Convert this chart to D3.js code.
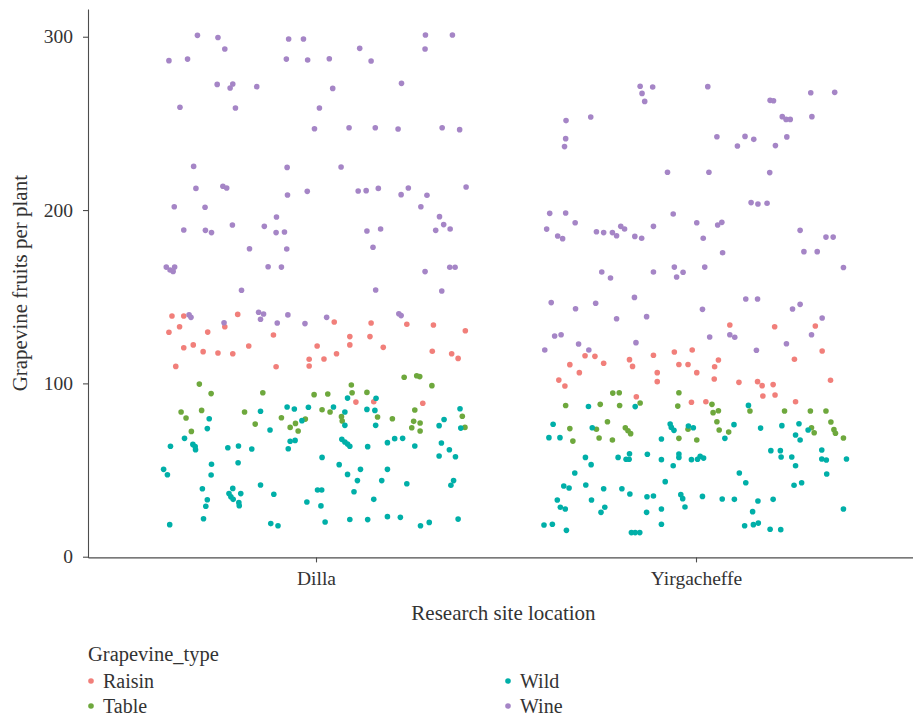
<!DOCTYPE html>
<html>
<head>
<meta charset="utf-8">
<script src="https://cdn.jsdelivr.net/npm/d3@7"></script>
<style>
  body { margin: 0; background: #fff; }
  text { font-family: "Liberation Serif", "DejaVu Serif", serif; fill: #333; }
</style>
</head>
<body>
<div id="chart"></div>
<script>
// Sites and grapevine types
const sites = ['Dilla', 'Yirgacheffe'];
const types = ['Raisin', 'Table', 'Wild', 'Wine'];
const colors = ['#F17F7A', '#6EA83D', '#00AFA8', '#A585C6'];
const yTicks = [0, 100, 200, 300];

// Each point: [jitter from site centre (site units), fruits per plant]
const dillaRaisin = [[-0.379,138.9],[-0.348,138.9],[-0.359,132.7],[-0.387,129.5],[-0.285,129.6],[-0.240,132.7],[-0.206,139.8],[-0.112,127.9],[-0.348,120.6],[-0.323,122.2],[-0.297,118.3],[-0.258,117.5],[-0.219,117.1],[-0.177,121.6],[-0.369,109.8],[-0.105,109.6],[-0.018,113.9],[-0.018,110.0],[0.003,121.6],[0.021,114.1],[0.048,135.4],[0.054,117.1],[0.089,127.0],[0.089,122.2],[0.142,127.0],[0.145,134.8],[0.177,120.8],[0.239,134.1],[0.309,133.7],[0.306,118.5],[0.357,117.1],[0.374,114.4],[0.393,130.4],[0.105,89.2],[0.152,89.4],[0.281,88.5]];

const dillaTable = [[-0.307,99.6],[-0.276,94.1],[-0.355,83.5],[-0.342,80.0],[-0.301,84.4],[-0.328,72.3],[-0.188,83.5],[-0.140,94.6],[-0.160,76.5],[-0.091,80.2],[-0.068,74.6],[-0.054,76.9],[-0.047,72.5],[-0.028,79.4],[-0.005,93.5],[0.031,93.9],[0.016,84.8],[0.037,83.5],[0.067,80.8],[0.069,78.3],[0.093,99.1],[0.095,94.6],[0.134,94.8],[0.162,80.6],[0.201,79.6],[0.232,103.5],[0.265,104.4],[0.273,103.9],[0.305,98.7],[0.260,84.6],[0.257,78.1],[0.274,77.1],[0.252,74.4],[0.274,72.5],[0.385,81.0],[0.392,74.6]];

const dillaWild = [[-0.281,79.6],[-0.286,73.9],[-0.346,68.3],[-0.383,63.7],[-0.324,64.8],[-0.318,63.5],[-0.317,61.7],[-0.401,50.4],[-0.391,47.3],[-0.275,53.3],[-0.276,47.1],[-0.299,39.2],[-0.286,32.9],[-0.290,29.1],[-0.296,21.9],[-0.385,18.5],[-0.232,62.9],[-0.204,63.9],[-0.205,54.2],[-0.169,62.1],[-0.219,39.4],[-0.229,36.5],[-0.224,34.6],[-0.218,33.1],[-0.198,36.4],[-0.203,31.2],[-0.202,29.4],[-0.146,83.9],[-0.121,73.1],[-0.146,41.4],[-0.111,36.0],[-0.119,19.1],[-0.100,17.9],[-0.076,86.4],[-0.057,85.2],[-0.037,78.5],[-0.068,66.6],[-0.055,67.1],[-0.073,62.3],[-0.020,86.2],[0.046,86.4],[0.083,91.5],[0.076,83.5],[0.076,75.8],[0.068,67.7],[0.076,66.2],[0.083,65.0],[0.089,63.7],[0.016,57.3],[0.061,53.1],[0.004,38.5],[0.015,38.5],[-0.024,31.6],[0.013,29.3],[0.024,20.0],[0.083,47.5],[0.117,50.4],[0.109,43.9],[0.100,37.5],[0.089,21.5],[0.136,21.4],[0.134,85.0],[0.155,84.4],[0.158,91.4],[0.157,75.8],[0.136,63.5],[0.152,33.1],[0.173,43.9],[0.188,50.4],[0.188,65.8],[0.207,68.1],[0.228,68.3],[0.188,23.1],[0.222,22.7],[0.239,42.1],[0.260,63.9],[0.275,17.9],[0.298,19.8],[0.324,75.6],[0.337,79.2],[0.330,65.6],[0.351,61.7],[0.324,58.1],[0.367,57.7],[0.362,43.9],[0.355,41.2],[0.374,21.7],[0.379,85.4],[0.381,74.2]];

const dillaWine = [[-0.312,300.8],[-0.258,299.6],[-0.240,292.9],[-0.387,286.2],[-0.338,287.1],[-0.072,298.7],[-0.033,298.7],[-0.078,287.1],[-0.022,286.6],[0.035,287.3],[0.115,293.3],[0.145,286.0],[0.288,301.0],[0.359,301.0],[0.287,292.9],[-0.260,272.5],[-0.219,272.7],[-0.226,270.4],[-0.156,271.2],[0.044,270.2],[0.225,273.1],[-0.358,259.3],[-0.212,258.9],[0.009,258.9],[-0.004,246.9],[0.087,247.5],[0.156,247.5],[0.216,246.8],[0.332,247.5],[0.378,246.4],[-0.322,225.2],[-0.076,224.6],[0.066,224.8],[-0.316,212.5],[-0.245,213.7],[-0.235,212.7],[-0.075,208.7],[-0.023,210.8],[0.111,211.0],[0.132,211.2],[0.164,212.5],[0.224,208.9],[0.243,212.7],[0.292,208.5],[0.395,213.3],[-0.373,201.9],[-0.292,201.6],[0.276,201.9],[-0.104,196.0],[0.325,196.2],[-0.348,188.5],[-0.291,188.3],[-0.275,187.0],[-0.220,191.4],[-0.136,190.6],[-0.105,187.0],[-0.083,187.3],[0.134,187.9],[0.170,189.1],[0.336,191.6],[0.315,188.3],[0.353,189.1],[-0.175,177.7],[-0.077,177.5],[0.150,178.5],[-0.394,167.1],[-0.384,165.4],[-0.376,164.6],[-0.372,167.1],[-0.126,167.3],[-0.091,167.1],[0.287,164.5],[0.352,167.0],[0.366,167.0],[-0.196,153.7],[0.157,153.9],[0.331,153.3],[-0.334,139.5],[-0.329,138.1],[-0.151,141.0],[-0.138,140.0],[-0.146,137.0],[-0.074,139.5],[-0.242,135.0],[-0.102,134.8],[-0.029,134.5],[0.028,138.1],[0.218,140.2],[0.224,139.1]];

const yirgRaisin = [[0.089,133.7],[0.207,132.7],[0.314,133.1],[0.332,118.7],[0.259,113.9],[-0.292,115.9],[-0.266,115.6],[-0.332,110.8],[-0.307,106.2],[-0.243,111.6],[-0.361,101.9],[-0.345,98.5],[-0.175,113.7],[-0.167,109.8],[-0.112,116.2],[-0.102,106.2],[-0.102,101.0],[-0.057,118.1],[-0.045,110.9],[-0.021,110.9],[-0.010,119.3],[0.002,106.2],[0.059,113.5],[0.049,109.6],[0.048,102.5],[0.113,100.6],[0.162,101.0],[0.174,98.7],[0.203,99.3],[0.354,101.8],[-0.157,92.3],[-0.012,89.1],[0.026,89.4],[0.176,92.7],[0.208,93.3],[0.262,89.4]];

const yirgTable = [[-0.219,94.4],[-0.202,94.6],[-0.343,87.2],[-0.252,87.9],[-0.201,87.2],[-0.147,88.7],[-0.045,94.6],[-0.048,86.9],[-0.332,73.9],[-0.324,66.7],[-0.262,73.5],[-0.255,68.5],[-0.233,77.9],[-0.220,67.3],[-0.186,74.4],[-0.179,72.7],[-0.172,71.0],[-0.021,73.5],[-0.045,68.3],[0.002,67.3],[0.042,87.9],[0.045,83.1],[0.059,84.2],[0.055,77.9],[0.061,73.1],[0.086,71.9],[0.142,84.1],[0.233,84.1],[0.301,84.1],[0.342,84.1],[0.355,77.7],[0.304,74.4],[0.311,71.5],[0.363,73.3],[0.367,71.2],[0.388,68.5]];

const yirgWild = [[-0.283,86.7],[-0.160,86.6],[0.138,87.3],[-0.376,76.4],[-0.387,68.7],[-0.358,68.7],[-0.273,74.4],[-0.291,57.3],[-0.276,53.1],[-0.319,48.3],[-0.348,40.8],[-0.334,39.6],[-0.290,41.4],[-0.365,32.7],[-0.357,28.5],[-0.344,27.5],[-0.275,32.7],[-0.400,18.3],[-0.378,18.7],[-0.341,15.2],[-0.243,39.2],[-0.240,28.5],[-0.250,25.6],[-0.205,57.3],[-0.184,56.2],[-0.176,56.2],[-0.175,59.4],[-0.195,39.2],[-0.174,36.2],[-0.128,59.1],[-0.129,34.6],[-0.112,35.0],[-0.130,25.6],[-0.170,13.9],[-0.160,13.9],[-0.148,13.9],[-0.091,67.9],[-0.091,56.0],[-0.081,43.3],[-0.091,27.5],[-0.091,18.7],[-0.068,76.6],[-0.065,74.6],[-0.058,72.9],[-0.060,52.5],[-0.045,59.2],[-0.045,57.3],[-0.040,35.8],[-0.035,33.5],[-0.029,28.7],[-0.020,75.4],[-0.007,74.4],[-0.012,56.0],[0.004,56.2],[0.011,57.9],[0.020,56.9],[0.017,34.8],[0.076,68.3],[0.100,76.2],[0.069,33.3],[0.101,33.1],[0.114,48.3],[0.131,42.7],[0.149,26.0],[0.163,32.1],[0.128,17.9],[0.151,18.5],[0.164,19.4],[0.170,74.2],[0.195,15.8],[0.223,15.6],[0.203,33.1],[0.197,61.2],[0.222,61.2],[0.224,57.5],[0.226,75.6],[0.252,57.5],[0.262,52.5],[0.258,41.2],[0.278,42.7],[0.262,70.2],[0.274,67.3],[0.271,76.7],[0.295,73.1],[0.331,61.6],[0.331,56.4],[0.343,55.8],[0.344,47.7],[0.396,56.4],[0.388,27.5]];

const yirgWine = [[-0.147,271.4],[-0.142,267.3],[-0.135,262.7],[-0.114,271.0],[0.031,271.2],[-0.342,251.6],[-0.277,253.7],[-0.343,241.2],[-0.346,236.6],[0.195,263.3],[0.204,263.1],[0.302,267.7],[0.365,267.9],[0.227,253.9],[0.237,252.3],[0.248,252.3],[0.305,253.9],[0.055,242.3],[0.129,242.5],[0.152,240.8],[0.109,237.0],[0.209,237.2],[0.239,242.2],[-0.075,221.8],[0.034,221.8],[0.194,221.6],[0.145,204.3],[0.163,203.5],[0.187,203.9],[-0.385,198.1],[-0.343,198.3],[-0.060,197.7],[-0.393,189.0],[-0.318,192.7],[-0.364,185.0],[-0.351,183.5],[-0.262,187.5],[-0.243,187.0],[-0.220,187.0],[-0.209,185.2],[-0.198,190.6],[-0.188,189.1],[-0.161,184.8],[-0.143,183.7],[-0.112,190.6],[0.002,192.7],[0.019,183.7],[0.057,191.4],[0.068,192.9],[0.070,175.4],[0.274,188.3],[0.342,184.4],[0.361,184.4],[0.284,176.0],[0.319,176.0],[0.388,166.9],[-0.248,164.3],[-0.225,160.8],[-0.112,164.3],[-0.057,167.1],[-0.051,161.4],[-0.034,164.1],[0.023,167.1],[-0.381,146.6],[-0.317,143.1],[-0.264,146.2],[-0.162,149.6],[-0.209,137.3],[-0.130,138.5],[0.017,142.7],[0.131,148.7],[0.162,148.7],[0.254,142.9],[0.274,145.6],[0.332,137.7],[-0.372,127.3],[-0.355,128.1],[-0.309,122.7],[-0.282,119.3],[-0.398,119.3],[-0.158,123.5],[0.036,126.8],[0.089,128.1],[0.102,126.6],[0.159,119.1],[0.238,122.9],[0.304,128.1]];

const groups = [
    { site: 0, type: 0, pts: dillaRaisin }, { site: 1, type: 0, pts: yirgRaisin },
    { site: 0, type: 1, pts: dillaTable },  { site: 1, type: 1, pts: yirgTable },
    { site: 0, type: 2, pts: dillaWild },   { site: 1, type: 2, pts: yirgWild },
    { site: 0, type: 3, pts: dillaWine },   { site: 1, type: 3, pts: yirgWine }
];

const width = 913, height = 718;

const svg = d3.select('#chart').append('svg')
    .attr('width', width)
    .attr('height', height);

// site 1 sits at 1, site 2 at 2, discrete expansion 0.6 each side
const x = d3.scaleLinear().domain([0.4, 2.6]).range([88, 924]);
const y = d3.scaleLinear().domain([-0.4, 316]).range([557.4, 9]);
const color = d3.scaleOrdinal().domain(types).range(colors);

// points
groups.forEach(g => {
    svg.append('g')
        .selectAll('circle')
        .data(g.pts)
        .enter()
        .append('circle')
            .attr('cx', d => x(g.site + 1 + d[0]))
            .attr('cy', d => y(d[1]))
            .attr('r', 2.8)
            .attr('fill', color(types[g.type]));
});

// y axis
const yAxis = svg.append('g')
    .attr('transform', `translate(${x(0.4)},0)`)
    .call(d3.axisLeft(y).tickValues(yTicks).tickSize(5).tickPadding(10).tickSizeOuter(0));

// x axis
const xAxis = svg.append('g')
    .attr('transform', `translate(0,${y(-0.4)})`)
    .call(d3.axisBottom(x).tickValues([1, 2]).tickFormat(d => sites[d - 1]).tickSize(5).tickPadding(9).tickSizeOuter(0));

[yAxis, xAxis].forEach(a => {
    a.select('.domain').attr('stroke', '#4d4d4d').attr('stroke-width', 1.1);
    a.selectAll('.tick line').attr('stroke', '#4d4d4d').attr('stroke-width', 1.1);
    a.selectAll('.tick text')
        .attr('font-family', '"Liberation Serif", serif')
        .attr('font-size', 19.5)
        .attr('fill', '#333');
});

// axis titles
svg.append('text')
    .attr('x', (x(0.4) + width) / 2 + 3)
    .attr('y', 613)
    .attr('text-anchor', 'middle')
    .attr('dominant-baseline', 'central')
    .attr('font-size', 21)
    .text('Research site location');

svg.append('text')
    .attr('transform', `translate(20,${(y(316) + y(-0.4)) / 2}) rotate(-90)`)
    .attr('text-anchor', 'middle')
    .attr('dominant-baseline', 'central')
    .attr('font-size', 21)
    .text('Grapevine fruits per plant');

// legend
const legend = svg.append('g');
legend.append('text')
    .attr('x', 88)
    .attr('y', 654)
    .attr('dominant-baseline', 'central')
    .attr('font-size', 20.5)
    .text('Grapevine_type');

const items = legend.selectAll('g.item')
    .data(types)
    .enter()
    .append('g')
        .attr('class', 'item')
        .attr('transform', (d, i) => `translate(${i < 2 ? 91 : 508},${i % 2 === 0 ? 681 : 706})`);

items.append('circle')
    .attr('r', 2.8)
    .attr('fill', d => color(d));

items.append('text')
    .attr('x', 12)
    .attr('dominant-baseline', 'central')
    .attr('font-size', 20)
    .text(d => d);
</script>
</body>
</html>
